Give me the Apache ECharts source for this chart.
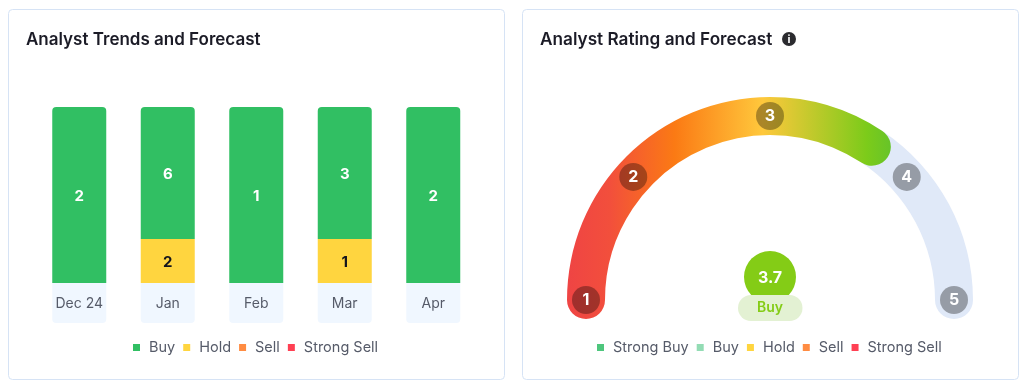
<!DOCTYPE html>
<html><head><meta charset="utf-8">
<style>html,body{margin:0;padding:0;background:#fff}#c{width:1024px;height:389px}</style>
<script src="https://cdn.jsdelivr.net/npm/echarts@6/dist/echarts.min.js"></script>
</head><body><div id="c"></div>
<script>
const months = ['Dec 24','Jan','Feb','Mar','Apr'];
const buy = [2,6,1,3,2];
const hold = [0,2,0,1,0];
const sell = [0,0,0,0,0];
const strongSell = [0,0,0,0,0];
const ratingTicks = [1,2,3,4,5];
const ratingValue = 3.7;
const ratingVerdict = 'Buy';
const trendLegend = ['Buy','Hold','Sell','Strong Sell'];
const ratingLegend = ['Strong Buy','Buy','Hold','Sell','Strong Sell'];

// angle scale of the gauge (rating tick -> degrees along the arc)
const tickDegrees = [0,42,90,138,180];
const toDegrees = r => {
  const i = Math.min(Math.floor(r)-1, ratingTicks.length-2);
  return tickDegrees[i] + (r-ratingTicks[i])*(tickDegrees[i+1]-tickDegrees[i]);
};

const FONT = 'Inter, "Noto Sans", sans-serif';
const TXT = '#565b69';
const COL = {buy:'#31bf63',hold:'#ffd53f',sell:'#ff8c42',ss:'#ff4053'};
const totals = months.map((_,i)=>buy[i]+hold[i]+sell[i]+strongSell[i]);

function stackSeries(name,vals,color,labelColor,radius){
  return {
    name, type:'bar', stack:'t', xAxisIndex:0, yAxisIndex:0, barWidth:54,
    data: vals.map((v,i)=>v/totals[i]),
    itemStyle:{color,borderRadius:radius||0},
    label:{show:true,position:'inside',offset:[0,1],color:labelColor,fontFamily:FONT,fontSize:15,fontWeight:700,
      formatter:p=>vals[p.dataIndex]?String(vals[p.dataIndex]):''}
  };
}
function legendOf(left,names,colors){
  return {
    left, top:335, orient:'horizontal', icon:'rect', itemWidth:7, itemHeight:7, itemGap:8,
    selectedMode:false,
    textStyle:{fontFamily:FONT,fontSize:14.5,color:TXT,padding:[0,0,0,4]},
    data:names.map((n,i)=>({name:n,itemStyle:{color:colors[i]}}))
  };
}
const card = (x,w)=>({type:'rect',z:-10,shape:{x:x+.5,y:9.5,width:w,height:370,r:4},
  style:{fill:'#fff',stroke:'#d6e3f5',lineWidth:1}});

const option = {
  animation:false,
  textStyle:{fontFamily:FONT},
  title:[
    {text:'Analyst Trends and Forecast',left:26,top:31,padding:0,textStyle:{fontFamily:FONT,fontSize:17,fontWeight:600,color:'#1b1b26'}},
    {text:'Analyst Rating and Forecast',left:540,top:31,padding:0,textStyle:{fontFamily:FONT,fontSize:17.2,fontWeight:600,color:'#1b1b26'}}
  ],
  legend:[
    legendOf(128,trendLegend,[COL.buy,COL.hold,COL.sell,COL.ss]),
    legendOf(592,ratingLegend,['#22b85c','#93dcb4',COL.hold,COL.sell,COL.ss])
  ],
  grid:{left:35,top:107,width:442.5,height:176},
  xAxis:{type:'category',data:months,axisLine:{show:false},axisTick:{show:false},
    axisLabel:{interval:0,margin:0,width:54,height:40,lineHeight:42,align:'center',verticalAlign:'top',
      backgroundColor:'#f0f7ff',borderRadius:[0,0,4,4],color:TXT,fontFamily:FONT,fontSize:14}},
  yAxis:{type:'value',min:0,max:1,show:false},
  polar:{center:[770,300],radius:[165,203]},
  angleAxis:{type:'value',min:0,max:180,startAngle:180,endAngle:0,clockwise:true,show:false},
  radiusAxis:{type:'category',data:['rating'],show:false},
  series:[
    stackSeries('Strong Sell',strongSell,COL.ss,'#fff'),
    stackSeries('Sell',sell,COL.sell,'#fff'),
    stackSeries('Hold',hold,COL.hold,'#14141c'),
    stackSeries('Buy',buy,COL.buy,'#fff',[4,4,0,0]),
    {name:'Strong Buy',type:'scatter',coordinateSystem:'polar',data:[],itemStyle:{color:'#22b85c'}},
    {name:'Rating',type:'bar',coordinateSystem:'polar',stack:'gauge',roundCap:true,clip:false,barWidth:'100%',
      data:[toDegrees(ratingValue)],z:3,
      itemStyle:{color:{type:'linear',global:true,x:567,y:0,x2:893,y2:0,colorStops:[
        {offset:0,color:'#ef4444'},{offset:.13,color:'#f24f3c'},{offset:.33,color:'#fb7a14'},
        {offset:.6,color:'#ffc83c'},{offset:.92,color:'#7ccb1a'},{offset:1,color:'#65c32a'}]}}},
    {name:'Rating track',type:'bar',coordinateSystem:'polar',stack:'gauge',roundCap:true,clip:false,barWidth:'100%',
      data:[180-toDegrees(ratingValue)],itemStyle:{color:'#e0e9f8'},z:2},
    {name:'Rating ticks',type:'scatter',coordinateSystem:'polar',symbol:'circle',symbolSize:28,z:4,clip:false,
      data:ratingTicks.map(t=>[0,toDegrees(t),t]),
      itemStyle:{color:'rgba(0,0,0,0.33)',opacity:1},
      label:{show:true,position:'inside',color:'#fff',fontFamily:FONT,fontSize:16,fontWeight:700,
        formatter:p=>String(p.value[2])}}
  ],
  graphic:{elements:[
    card(8,496), card(522,496),
    {type:'circle',z:5,shape:{cx:789,cy:39,r:7},style:{fill:'#2b2b2f'}},
    {type:'text',z:6,x:789,y:39.5,style:{text:'i',fill:'#fff',font:'bold 11px '+FONT,align:'center',verticalAlign:'middle'}},
    {type:'circle',z:5,shape:{cx:770,cy:277,r:26},style:{fill:'#84cc16'}},
    {type:'text',z:7,x:770,y:278,style:{text:String(ratingValue),fill:'#fff',font:'bold 16px '+FONT,align:'center',verticalAlign:'middle'}},
    {type:'rect',z:6,shape:{x:738,y:295,width:64.5,height:26,r:13},style:{fill:'#e3f1d3'}},
    {type:'text',z:7,x:770,y:308,style:{text:ratingVerdict,fill:'#84cc16',font:'600 14px '+FONT,align:'center',verticalAlign:'middle'}}
  ]}
};
echarts.init(document.getElementById('c'),null,{renderer:'canvas'}).setOption(option);
</script></body></html>
